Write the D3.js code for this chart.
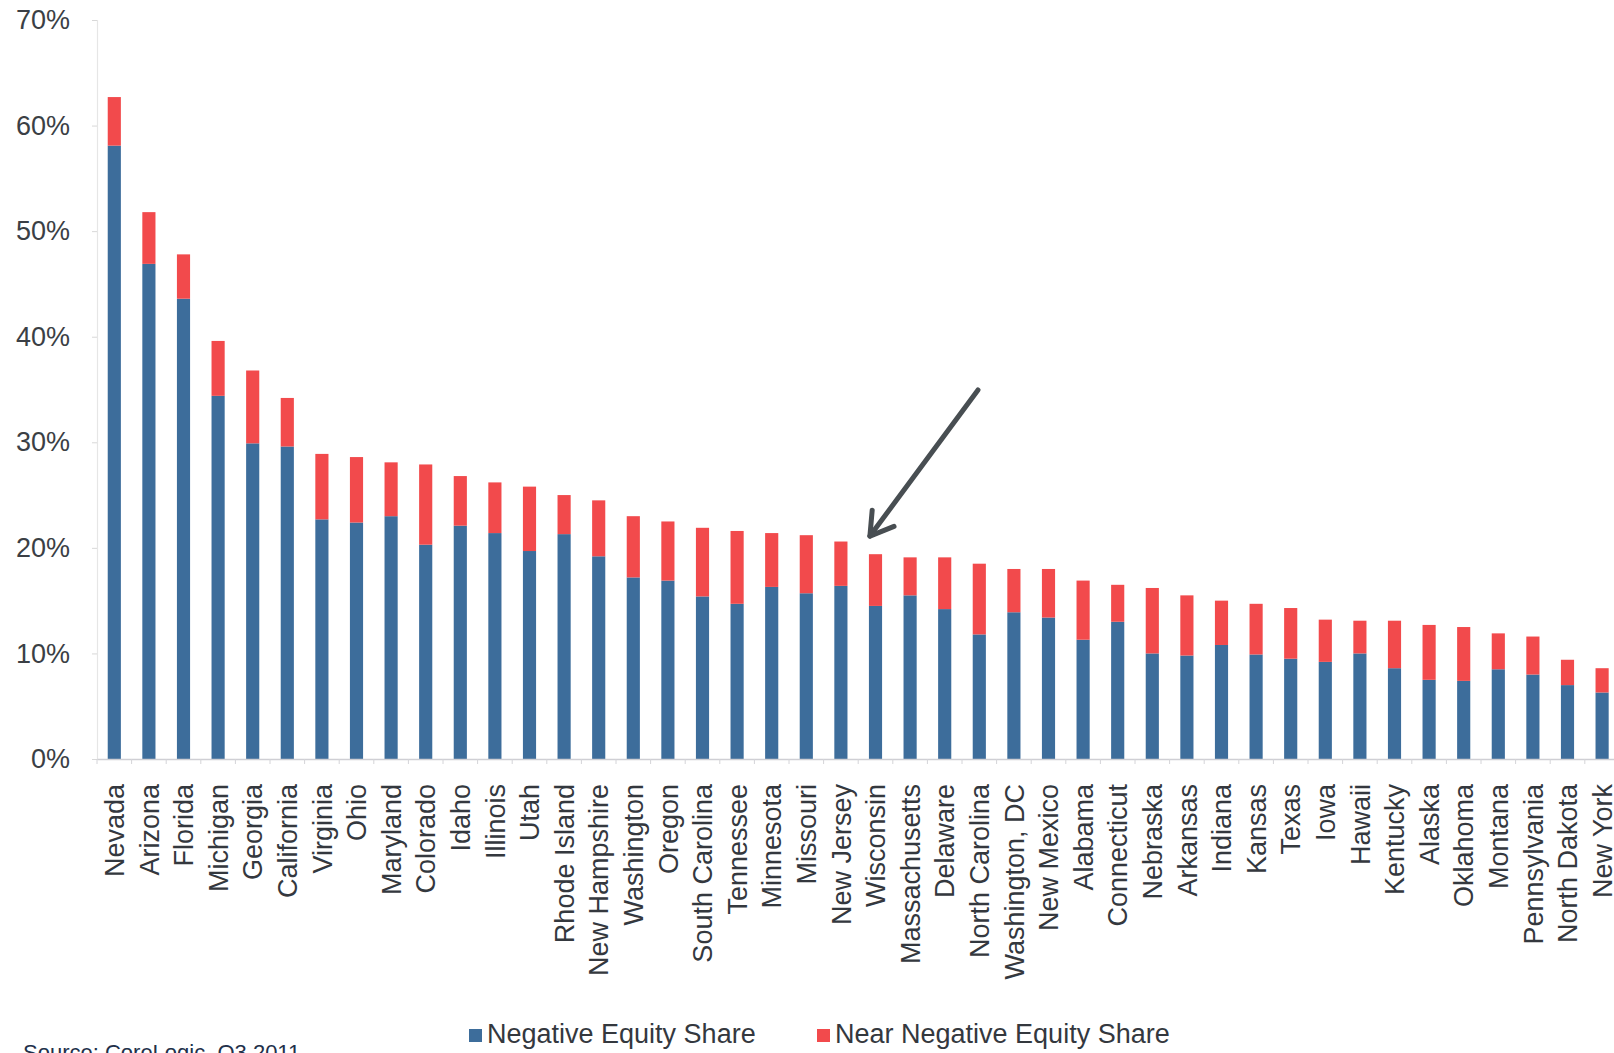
<!DOCTYPE html>
<html>
<head>
<meta charset="utf-8">
<script src="https://cdn.jsdelivr.net/npm/d3@7"></script>
<style>
  html, body { margin: 0; padding: 0; background: #ffffff; overflow: hidden; }
  svg { display: block; font-family: "Liberation Sans", Arial, sans-serif; }
</style>
</head>
<body>
<svg id="chart" width="1614" height="1053"></svg>
<script>
// States ranked by combined negative + near-negative equity share (Q3 2011)
const states = [
  "Nevada", "Arizona", "Florida", "Michigan", "Georgia", "California", "Virginia", "Ohio",
  "Maryland", "Colorado", "Idaho", "Illinois", "Utah", "Rhode Island", "New Hampshire",
  "Washington", "Oregon", "South Carolina", "Tennessee", "Minnesota", "Missouri", "New Jersey",
  "Wisconsin", "Massachusetts", "Delaware", "North Carolina", "Washington, DC", "New Mexico",
  "Alabama", "Connecticut", "Nebraska", "Arkansas", "Indiana", "Kansas", "Texas", "Iowa",
  "Hawaii", "Kentucky", "Alaska", "Oklahoma", "Montana", "Pennsylvania", "North Dakota", "New York"
];

// Share of mortgages with negative equity (%)
const negativeShare = [
  58.1, 46.9, 43.6, 34.4, 29.9, 29.6, 22.7, 22.4,
  23.0, 20.3, 22.1, 21.4, 19.7, 21.3, 19.2,
  17.2, 16.9, 15.4, 14.7, 16.3, 15.7, 16.4,
  14.5, 15.5, 14.2, 11.8, 13.9, 13.4,
  11.3, 13.0, 10.0, 9.8, 10.8, 9.9, 9.5, 9.2,
  10.0, 8.6, 7.5, 7.4, 8.5, 8.0, 7.0, 6.3
];

// Share of mortgages with near-negative equity (%)
const nearNegativeShare = [
  4.6, 4.9, 4.2, 5.2, 6.9, 4.6, 6.2, 6.2,
  5.1, 7.6, 4.7, 4.8, 6.1, 3.7, 5.3,
  5.8, 5.6, 6.5, 6.9, 5.1, 5.5, 4.2,
  4.9, 3.6, 4.9, 6.7, 4.1, 4.6,
  5.6, 3.5, 6.2, 5.7, 4.2, 4.8, 4.8, 4.0,
  3.1, 4.5, 5.2, 5.1, 3.4, 3.6, 2.4, 2.3
];

const yTicks = [0, 10, 20, 30, 40, 50, 60, 70];
const seriesNames = ["Negative Equity Share", "Near Negative Equity Share"];
const seriesColors = ["#3d6d9b", "#f24a4c"];
const sourceNote = "Source: CoreLogic, Q3 2011";

const rows = states.map((s, i) => ({ state: s, neg: negativeShare[i], near: nearNegativeShare[i] }));
const stacked = d3.stack().keys(["neg", "near"])(rows);

const svg = d3.select("#chart");

const x = d3.scaleBand()
  .domain(states)
  .range([97, 97 + 34.6 * states.length])
  .paddingInner(0.62)
  .paddingOuter(0.31);

const y = d3.scaleLinear().domain([0, 70]).range([759, 20]);

// y axis: faint spine with small ticks, percentage labels on the left
const yAxis = svg.append("g").attr("transform", "translate(97,0)")
  .call(d3.axisLeft(y).tickValues(yTicks).tickSize(5).tickPadding(22).tickFormat(d => d + "%"));
yAxis.select(".domain").attr("stroke", "#e6e6e6").attr("stroke-width", 1.2);
yAxis.selectAll(".tick line").attr("stroke", "#d8d8d8");
yAxis.selectAll(".tick text")
  .attr("fill", "#3b3f45")
  .attr("font-size", 27)
  .attr("font-family", "'Liberation Sans', Arial, sans-serif");

// stacked bars
svg.append("g").selectAll("g")
  .data(stacked)
  .join("g")
  .attr("fill", (d, i) => seriesColors[i])
  .selectAll("rect")
  .data(d => d)
  .join("rect")
  .attr("x", d => x(d.data.state))
  .attr("width", x.bandwidth())
  .attr("y", d => y(d[1]))
  .attr("height", d => y(d[0]) - y(d[1]));

// x axis: light baseline with ticks between categories, rotated state names
const xAxis = svg.append("g").attr("transform", `translate(0,${y(0)})`)
  .call(d3.axisBottom(x).tickSize(0).tickPadding(0));
xAxis.select(".domain").attr("stroke", "#cfcfd4").attr("stroke-width", 1.5);
xAxis.selectAll(".tick text").remove();
xAxis.append("g").selectAll("line")
  .data(states)
  .join("line")
  .attr("x1", d => x(d) - x.step() * x.paddingInner() / 2)
  .attr("x2", d => x(d) - x.step() * x.paddingInner() / 2)
  .attr("y1", 0).attr("y2", 5)
  .attr("stroke", "#d4d4d8");

svg.append("g").selectAll("text")
  .data(states)
  .join("text")
  .attr("transform", d => `translate(${x(d) + x.bandwidth() / 2},784) rotate(-90)`)
  .attr("text-anchor", "end")
  .attr("dy", "0.36em")
  .attr("fill", "#34383e")
  .attr("font-size", 27)
  .text(d => d);

// arrow pointing at Wisconsin
const tip = [x("Wisconsin") + 1, y(19.6) - 16];
const tail = [978, 390];
const ang = Math.atan2(tail[1] - tip[1], tail[0] - tip[0]);
const wing = 26, spread = 0.55;
const arrow = svg.append("g")
  .attr("stroke", "#484e52")
  .attr("stroke-width", 5)
  .attr("stroke-linecap", "round")
  .attr("stroke-linejoin", "round")
  .attr("fill", "none");
arrow.append("line")
  .attr("x1", tail[0]).attr("y1", tail[1])
  .attr("x2", tip[0]).attr("y2", tip[1]);
arrow.append("path")
  .attr("d", d3.line()([
    [tip[0] + wing * Math.cos(ang + spread), tip[1] + wing * Math.sin(ang + spread)],
    tip,
    [tip[0] + wing * Math.cos(ang - spread), tip[1] + wing * Math.sin(ang - spread)]
  ]));

// legend
const legendX = [469, 817];
const legend = svg.append("g");
seriesNames.forEach((name, i) => {
  legend.append("rect")
    .attr("x", legendX[i]).attr("y", 1029)
    .attr("width", 13).attr("height", 13)
    .attr("fill", seriesColors[i]);
  legend.append("text")
    .attr("x", legendX[i] + 18).attr("y", 1043)
    .attr("fill", "#34383e")
    .attr("font-size", 27)
    .text(name);
});

// source note, running off the bottom edge
svg.append("text")
  .attr("x", 23).attr("y", 1060)
  .attr("fill", "#22304a")
  .attr("font-size", 22)
  .text(sourceNote);
</script>
</body>
</html>
